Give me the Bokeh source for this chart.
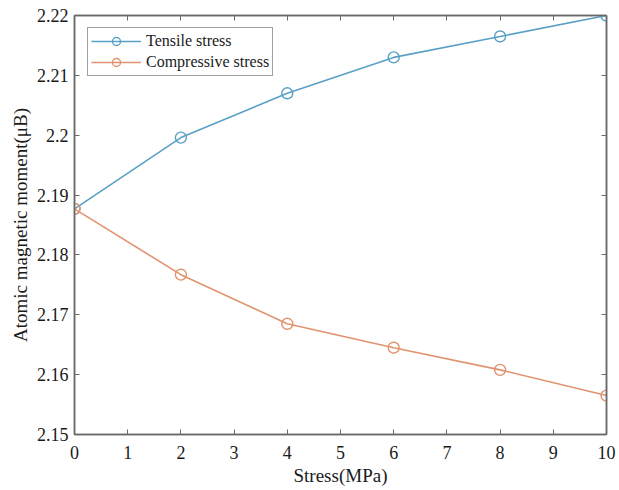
from bokeh.plotting import figure
from bokeh.models import LinearAxis, FixedTicker, Range1d, Legend, LegendItem
from bokeh.embed import file_html
from bokeh.resources import INLINE

stress = [0, 2, 4, 6, 8, 10]
tensile = [2.1877, 2.1996, 2.2070, 2.2130, 2.2165, 2.2200]
compressive = [2.1877, 2.1767, 2.1685, 2.1645, 2.1608, 2.1565]

x_ticks = [0, 1, 2, 3, 4, 5, 6, 7, 8, 9, 10]
y_ticks = [2.15, 2.16, 2.17, 2.18, 2.19, 2.2, 2.21, 2.22]
y_tick_labels = ["2.15", "2.16", "2.17", "2.18", "2.19", "2.2", "2.21", "2.22"]

series_names = ["Tensile stress", "Compressive stress"]
colors = ["#5aa0c6", "#e0936e"]

FONT = "Liberation Serif"
AX = "#6a6a6a"

p = figure(width=619, height=490, output_backend="svg", toolbar_location=None,
           x_range=Range1d(0, 10), y_range=Range1d(2.15, 2.22),
           min_border_left=74, min_border_right=13, min_border_top=15, min_border_bottom=56)
p.background_fill_color = "white"
p.border_fill_color = "white"
p.outline_line_color = AX
p.outline_line_width = 1.5
p.grid.visible = False

p.xaxis.ticker = FixedTicker(ticks=x_ticks)
p.yaxis.ticker = FixedTicker(ticks=y_ticks)
p.yaxis.major_label_overrides = {t: l for t, l in zip(y_ticks, y_tick_labels)}

for ax in p.axis:
    ax.axis_line_color = AX
    ax.axis_line_width = 1.5
    ax.major_tick_line_color = AX
    ax.major_tick_in = 5
    ax.major_tick_out = 0
    ax.minor_tick_line_color = None
    ax.major_label_text_font = FONT
    ax.major_label_text_font_size = "18px"
    ax.major_label_text_color = "#1a1a1a"
    ax.axis_label_text_font = FONT
    ax.axis_label_text_font_size = "19px"
    ax.axis_label_text_font_style = "normal"
    ax.axis_label_text_color = "#1a1a1a"

p.xaxis.axis_label = "Stress(MPa)"
p.xaxis.major_label_standoff = 11
p.xaxis.axis_label_standoff = 3
p.yaxis.axis_label = "Atomic magnetic moment(μB)"
p.yaxis.major_label_standoff = 6
p.yaxis.axis_label_standoff = 3

for loc, tk in (("above", x_ticks), ("right", y_ticks)):
    a = LinearAxis(ticker=FixedTicker(ticks=tk),
                   major_label_overrides={t: "" for t in tk},
                   major_label_standoff=0, axis_line_color=AX, axis_line_width=1.5,
                   major_tick_line_color=AX, major_tick_in=5, major_tick_out=0,
                   minor_tick_line_color=None)
    p.add_layout(a, loc)

items = []
for name, ys, c in zip(series_names, [tensile, compressive], colors):
    r1 = p.line(stress, ys, line_color=c, line_width=1.6)
    r2 = p.scatter(stress, ys, marker="circle", size=11, fill_color=None,
                   line_color=c, line_width=1.4)
    items.append(LegendItem(label=name, renderers=[r1, r2]))

legend = Legend(items=items, location=(13, 358))
legend.label_text_font = FONT
legend.label_text_font_size = "16px"
legend.label_text_color = "#1a1a1a"
legend.glyph_width = 50
legend.glyph_height = 20
legend.spacing = 1
legend.padding = 3
legend.margin = 0
legend.label_standoff = 5
legend.border_line_color = "#444444"
legend.border_line_width = 1.2
legend.background_fill_color = "white"
legend.background_fill_alpha = 1
p.add_layout(legend)

open("out.html", "w").write(file_html(p, INLINE))
